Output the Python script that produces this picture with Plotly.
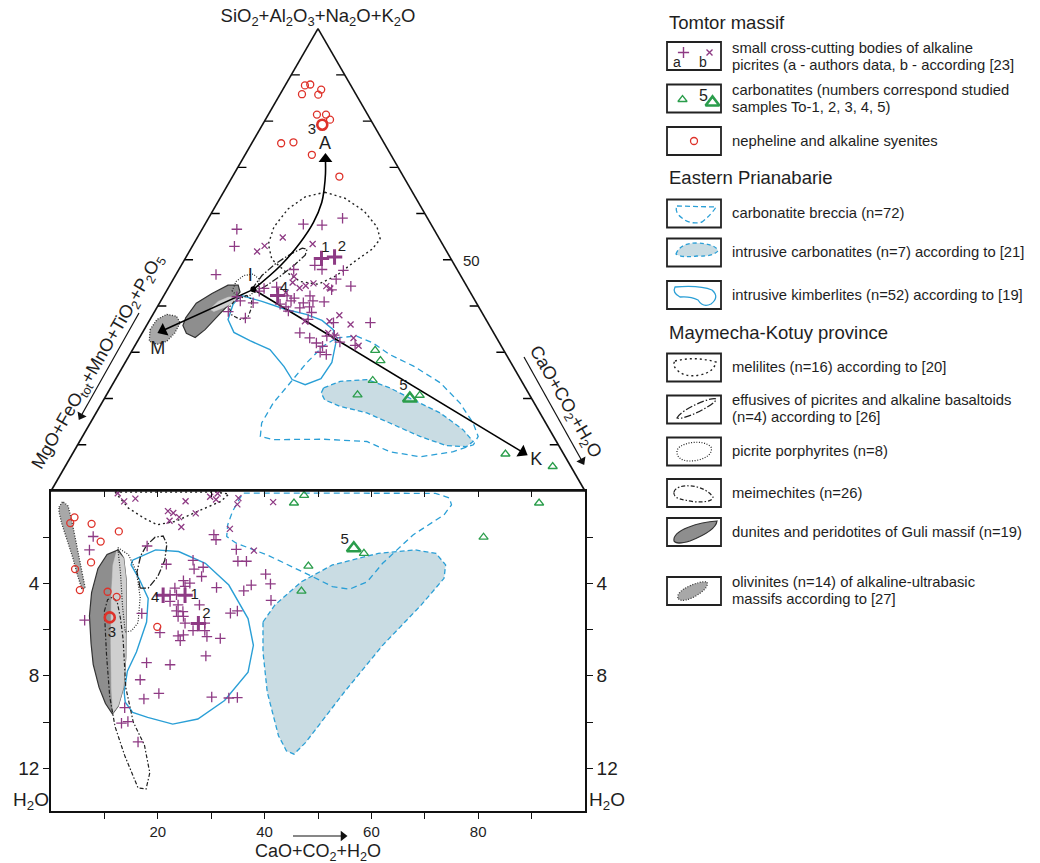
import plotly.graph_objects as go

W, H = 1040, 863
FONT = "Liberation Sans, Arial, sans-serif"

# ======================= DATA =======================
# Ternary: a = SiO2+Al2O3+Na2O+K2O, c = CaO+CO2+H2O, b = MgO+FeOtot+MnO+TiO2+P2O5 (= 100 - a - c)
t_syenite_a = [87.7, 87.9, 86.8, 85.8, 85.7, 81.4, 81.4, 80.3, 75.2, 75.4, 72.7, 68.0]
t_syenite_c = [3.7, 4.6, 7.2, 4.1, 7.2, 9.1, 10.8, 12.1, 5.5, 7.7, 12.5, 20.0]
t_sample3_a = [79.2]
t_sample3_c = [11.2]

t_carb_a = [30.4, 28.2, 23.9, 20.8, 20.7, 8.0, 5.3]
t_carb_c = [45.5, 47.6, 48.3, 47.0, 58.7, 81.1, 91.3]
t_sample5_a = [20.0]
t_sample5_c = [57.2]

t_picra_a = [57.7, 57.5, 59.0, 56.6, 52.9, 46.8, 48.8, 47.9, 47.9, 47.7, 45.8, 44.3, 44.1, 43.8,
             43.2, 40.7, 41.1, 42.0, 38.8, 37.4, 42.2, 41.7, 42.2, 43.5, 41.1, 40.4, 39.8, 40.7,
             41.1, 40.9, 39.6, 39.8, 38.9, 38.6, 37.1, 36.4, 36.4, 34.2, 33.1, 33.5, 32.0, 31.3,
             30.0, 29.5, 32.2, 31.5, 33.7]
t_picra_c = [18.4, 22.0, 25.1, 6.5, 7.9, 7.5, 25.0, 26.8, 21.5, 30.9, 30.5, 34.0, 20.2, 18.0,
             17.4, 17.5, 14.9, 13.8, 13.8, 17.7, 23.1, 24.7, 27.4, 30.8, 24.4, 22.7, 24.1, 26.9,
             28.5, 30.7, 26.8, 28.5, 25.0, 29.5, 29.6, 34.7, 41.6, 29.5, 31.9, 34.9, 33.7, 35.2,
             35.4, 36.8, 38.0, 41.2, 36.2]
t_samples124_a = [50.3, 50.6, 42.3]
t_samples124_c = [25.5, 27.8, 21.3]

t_picrb_a = [54.8, 51.8, 53.0, 53.4, 46.4, 43.8, 45.1, 43.9, 44.4, 44.9, 42.9, 38.0, 36.7, 36.0,
             34.2, 33.6, 33.1, 31.4, 36.7, 44.3]
t_picrb_c = [16.0, 12.7, 13.5, 22.3, 22.3, 30.4, 22.7, 24.6, 25.5, 26.7, 22.5, 35.0, 33.8, 38.1,
             34.8, 36.4, 40.1, 41.9, 29.2, 29.4]

# ternary fields
t_melil_a = [64.6, 63.3, 60.5, 57.1, 54.5, 52.3, 49.7, 46.6, 44.7, 45.3, 47.5, 50.1, 53.4, 57.1, 61.0, 63.6]
t_melil_c = [19.0, 23.4, 28.4, 32.5, 34.4, 34.0, 32.1, 30.2, 27.7, 24.0, 20.1, 16.3, 14.0, 13.2, 13.9, 15.8]
t_effus_a = [43.6, 46.6, 49.2, 51.2, 52.5, 52.3, 51.0, 49.0, 46.6, 44.5, 43.0]
t_effus_c = [15.8, 16.2, 17.5, 19.2, 20.8, 21.8, 22.1, 21.2, 19.8, 18.2, 16.7]
t_porph_a = [43.2, 45.3, 46.6, 46.9, 45.8, 43.8, 42.3, 41.7]
t_porph_c = [12.3, 12.0, 12.8, 14.4, 16.1, 16.9, 16.1, 14.6]
t_meim_a = [41.4, 42.3, 41.4, 39.3, 37.5, 37.1, 38.0, 39.7]
t_meim_c = [13.9, 15.4, 16.9, 17.8, 18.1, 16.9, 14.9, 13.5]
t_dunite_a = [37.5, 40.6, 42.7, 44.5, 44.5, 43.0, 41.0, 38.4, 34.9, 33.2, 34.1, 35.8]
t_dunite_c = [6.5, 6.9, 8.8, 10.9, 12.8, 13.9, 13.4, 12.5, 11.4, 10.4, 8.3, 6.8]
t_dunlight_a = [39.3, 41.0, 41.9, 42.1, 40.8, 39.7, 38.8]
t_dunlight_c = [10.1, 10.8, 12.2, 13.6, 13.9, 12.6, 11.1]
t_oliv_a = [34.9, 37.1, 38.2, 37.8, 36.4, 34.2, 32.4, 31.7, 32.4]
t_oliv_c = [1.1, 1.3, 2.6, 4.6, 6.0, 6.1, 5.5, 4.0, 2.2]
t_kimb_a = [42.3, 41.0, 39.3, 38.2, 36.9, 34.9, 32.1, 27.8, 24.3, 23.0, 24.1, 26.9, 30.6, 32.5, 34.3, 37.1, 40.4]
t_kimb_c = [14.4, 19.0, 24.2, 28.7, 32.3, 35.4, 37.3, 38.7, 38.4, 36.1, 33.1, 30.2, 25.7, 21.0, 17.1, 14.6, 13.9]
t_brec_a = [33.1, 33.5, 32.0, 29.5, 27.0, 23.4, 19.0, 14.7, 11.8, 10.0, 8.5, 7.4, 8.5, 10.7, 11.2,
            11.1, 11.8, 14.7, 19.0, 23.4, 27.7, 31.3]
t_brec_c = [36.9, 40.5, 44.3, 48.7, 54.4, 61.2, 67.1, 71.7, 74.1, 74.1, 71.1, 65.4, 59.2, 53.8, 45.4,
            36.1, 33.3, 32.1, 32.1, 33.1, 34.0, 35.3]
t_intr_a = [22.3, 23.7, 24.1, 22.3, 19.7, 16.9, 13.2, 10.7, 9.6, 9.8, 11.8, 14.7, 16.9, 18.3, 19.7, 21.2]
t_intr_c = [39.9, 42.3, 47.1, 52.3, 58.0, 64.4, 70.6, 73.7, 73.0, 69.2, 63.2, 56.1, 50.7, 45.0, 41.4, 40.0]

# trends from point I
t_I_a = [43.6]
t_I_c = [16.1]
t_trendA_a = [43.6, 48.7, 53.7, 58.1, 62.4, 65.3, 68.6, 71.4]
t_trendA_c = [16.1, 18.6, 19.8, 20.1, 19.5, 18.5, 17.1, 15.7]
t_trendM_a = [43.6, 34.7]
t_trendM_c = [16.1, 3.6]
t_trendK_a = [43.6, 8.4]
t_trendK_c = [16.1, 84.1]
t_heads_a = [71.8, 34.7, 8.4]
t_heads_c = [15.5, 3.6, 84.1]
t_heads_angle = [0, -114.5, 121]

t_letters = ["A", "I", "M", "K"]
t_letters_a = [75.0, 46.4, 30.6, 6.7]
t_letters_c = [13.8, 14.1, 4.7, 87.5]
t_numbers = ["3", "1", "2", "4", "5"]
t_numbers_a = [77.9, 52.4, 52.6, 43.8, 22.6]
t_numbers_c = [9.9, 25.2, 28.2, 21.7, 54.7]
t_ticks = [10, 20, 30, 40, 50, 60, 70, 80, 90]

# Lower panel: x = CaO+CO2+H2O, y = H2O
b_syenite_x = [4.4, 3.6, 7.6, 12.7, 9.3, 7.5, 4.5, 5.4, 10.6, 12.3, 19.9]
b_syenite_y = [1.14, 1.39, 1.42, 1.75, 2.19, 3.09, 3.38, 4.29, 4.36, 4.58, 5.88]
b_sample3_x = [11.0]
b_sample3_y = [5.47]
b_carb_x = [45.5, 47.4, 91.4, 81.0, 58.6, 48.2, 46.9]
b_carb_y = [0.52, 0.19, 0.52, 2.0, 2.70, 3.25, 4.33]
b_sample5_x = [56.7]
b_sample5_y = [2.48]
b_picra_x = [7.9, 7.2, 6.3, 18.0, 21.6, 17.0, 20.4, 13.8, 13.2, 14.4, 17.9, 16.7, 22.3, 17.4, 20.2, 16.3,
             26.6, 28.5, 26.8, 28.2, 24.8, 26.0, 31.0, 23.2, 25.1, 22.3, 23.5, 22.3, 23.8, 27.8, 23.5,
             24.7, 23.8, 24.8, 25.1, 26.6, 28.8, 28.8, 29.2, 23.8, 24.8, 24.2, 31.7, 29.0,
             30.1, 33.3, 34.9, 33.6, 34.9, 36.1, 37.5, 41.2, 41.1, 40.2, 34.7, 35.0, 36.6, 30.5, 30.9]
b_picra_y = [1.97, 2.55, 5.59, 2.38, 3.17, 5.30, 6.13, 9.38, 10.05, 9.98, 7.43, 8.17, 7.52, 9.0, 8.76, 10.86,
             3.0, 3.3, 3.38, 3.7, 3.88, 3.99, 4.18, 4.2, 4.13, 4.49, 4.49, 4.78, 4.93, 4.93, 5.19,
             5.22, 5.43, 5.43, 5.72, 6.04, 5.72, 6.04, 6.3, 6.27, 6.23, 6.48, 6.38, 7.14,
             8.92, 8.96, 8.94, 5.29, 5.19, 4.32, 4.07, 4.73, 4.02, 3.6, 2.53, 3.04, 3.04, 1.89, 2.11]
b_samples124_x = [25.1, 27.6, 21.0]
b_samples124_y = [4.51, 5.74, 4.51]
b_picrb_x = [12.5, 13.7, 15.8, 25.2, 29.8, 30.9, 31.2, 35.1, 34.9, 41.6, 21.9, 22.9, 24.0, 22.2, 24.4, 27.1, 33.5, 38.0]
b_picrb_y = [0.10, 0.45, 0.33, 0.44, 0.25, 0.37, 0.11, 0.31, 0.58, 0.48, 0.87, 0.95, 1.13, 1.29, 1.56, 0.97, 1.64, 2.58]

b_melil_x = [12.0, 31.0, 33.3, 31.8, 28.2, 23.2, 19.9, 17.4, 14.5]
b_melil_y = [0.05, 0.05, 0.13, 0.45, 0.81, 1.32, 1.46, 1.17, 0.74]
b_brec_x = [36.1, 72.0, 74.6, 75.0, 73.6, 67.8, 62.1, 59.2, 55.9, 52.7, 48.4, 40.5, 34.7, 32.9, 33.1, 34.0, 35.4]
b_brec_y = [0.09, 0.10, 0.30, 0.60, 1.03, 1.90, 3.13, 3.93, 4.25, 4.14, 3.64, 2.77, 2.26, 1.97, 1.46, 0.88, 0.30]
b_intr_x = [39.7, 41.9, 46.9, 52.7, 61.3, 68.2, 72.1, 73.9, 73.6, 69.3, 62.1, 54.9, 47.7, 45.5, 44.1, 42.6, 40.5, 39.7]
b_intr_y = [5.67, 4.94, 3.93, 3.20, 2.70, 2.55, 2.70, 3.20, 3.78, 4.94, 6.68, 8.71, 10.88, 11.39, 11.25, 10.59, 8.71, 6.97]
b_kimb_x = [15.3, 19.6, 23.9, 28.9, 33.3, 36.9, 37.9, 36.9, 32.5, 27.5, 22.8, 18.1, 15.3, 13.9, 13.7,
            14.3, 16.0, 17.9, 18.2, 16.5, 15.0]
b_kimb_y = [2.99, 2.55, 2.62, 3.13, 4.07, 5.52, 6.68, 7.84, 9.07, 9.87, 10.09, 9.80, 9.58, 9.14, 8.7,
            7.8, 6.97, 5.67, 4.65, 3.8, 3.2]
b_dunite_x = [12.6, 10.5, 8.8, 7.6, 7.2, 7.5, 7.9, 9.0, 10.2, 11.5, 12.6, 13.6, 14.0, 14.1, 14.1, 13.6]
b_dunite_y = [2.55, 2.75, 3.35, 4.4, 5.4, 6.6, 7.5, 8.5, 9.2, 9.65, 9.3, 8.5, 7.2, 5.5, 3.9, 2.9]
b_dunlight_x = [12.3, 13.6, 14.1, 14.1, 14.0, 13.6, 12.6, 11.6, 11.3, 11.2, 11.3, 11.6]
b_dunlight_y = [2.6, 2.9, 3.9, 5.5, 7.2, 8.5, 9.3, 9.6, 8.5, 6.5, 4.5, 3.2]
b_oliv_x = [1.5, 2.2, 3.2, 3.9, 4.6, 5.3, 6.1, 6.4, 5.8, 4.9, 4.1, 3.0, 2.0, 1.5]
b_oliv_y = [0.7, 0.45, 0.65, 1.3, 2.1, 2.9, 3.7, 4.2, 4.25, 3.6, 2.9, 2.1, 1.4, 0.9]
b_effus_x = [16.7, 16.1, 16.8, 17.9, 19.5, 21.0, 21.7, 21.3, 20.0, 18.2]
b_effus_y = [4.2, 3.5, 2.8, 2.35, 2.0, 1.95, 2.3, 3.0, 3.7, 4.2]
b_meim_x = [10.0, 10.6, 11.5, 12.4, 13.0, 13.5, 14.0, 15.4, 17.5, 18.5, 17.8, 16.3, 13.8, 12.0, 11.0, 10.4]
b_meim_y = [5.2, 4.7, 4.6, 4.8, 5.5, 6.4, 8.5, 10.0, 11.0, 12.2, 12.9, 12.85, 11.45, 10.2, 8.9, 7.1]
b_porph_x = [12.5, 14.5, 16.0, 16.7, 16.3, 15.1, 13.9, 13.4, 13.0]
b_porph_y = [2.45, 2.75, 3.5, 4.6, 5.7, 6.05, 6.1, 5.0, 3.5]
b_numbers = ["3", "4", "1", "2", "5"]
b_numbers_x = [11.4, 19.5, 26.9, 29.1, 55.0]
b_numbers_y = [6.17, 4.65, 4.51, 5.35, 2.14]

x_major = [20, 40, 60, 80]
x_minor = [10, 30, 50, 70, 90]
x_all = [10, 20, 30, 40, 50, 60, 70, 80, 90]
y_major = [4, 8, 12]
y_minor = [2, 6, 10]

legend_lines = [
    ["small cross-cutting bodies of alkaline", "picrites (a - authors data, b - according [23]"],
    ["carbonatites (numbers correspond studied", "samples To-1, 2, 3, 4, 5)"],
    ["nepheline and alkaline syenites"],
    ["carbonatite breccia (n=72)"],
    ["intrusive carbonatites (n=7) according to [21]"],
    ["intrusive kimberlites (n=52) according to [19]"],
    ["melilites (n=16) according to [20]"],
    ["effusives of picrites and alkaline basaltoids", "(n=4) according to [26]"],
    ["picrite porphyrites (n=8)"],
    ["meimechites (n=26)"],
    ["dunites and peridotites of Guli massif (n=19)"],
    ["olivinites (n=14) of alkaline-ultrabasic", "massifs according to [27]"],
]
legend_headers = ["Tomtor massif", "Eastern Prianabarie", "Maymecha-Kotuy province"]

# ======================= STYLE =======================
PURPLE = "#8e3a84"
RED = "#de3129"
GREEN = "#2a9d4b"
BLUE = "#2a9fd6"
CARB_FILL = "#c9dce3"
DARK_GRAY = "#8e8e8e"
LIGHT_GRAY = "#cfcfcf"
OLIV_GRAY = "#a8a8a8"
TXT = "#1e1e1e"

DOT = "2px,3px"
FINEDOT = "1px,1.6px"
DASHDOT_LONG = "7px,2px,1.5px,2px"
DASHDOT = "4px,2px,1.5px,2px"
DASH = "6px,4px"
DASH2 = "5px,3px"


def closed(v):
    return list(v) + [v[0]]


def rest(a, c):
    return [round(100 - x - y, 3) for x, y in zip(a, c)]


fig = go.Figure()


def tpoly(a, c, color, dash, width=1.3, fill=None):
    a2, c2 = closed(a), closed(c)
    fig.add_trace(go.Scatterternary(
        a=a2, b=rest(a2, c2), c=c2, mode="lines",
        line=dict(color=color, width=width, dash=dash),
        fill="toself" if fill else "none", fillcolor=fill,
        hoverinfo="skip", showlegend=False))


def tline(a, c, color="black", width=1.6, shape="linear"):
    fig.add_trace(go.Scatterternary(
        a=a, b=rest(a, c), c=c, mode="lines",
        line=dict(color=color, width=width, shape=shape),
        hoverinfo="skip", showlegend=False))


def tmark(a, c, symbol, size, color, lw, angle=0):
    fig.add_trace(go.Scatterternary(
        a=a, b=rest(a, c), c=c, mode="markers",
        marker=dict(symbol=symbol, size=size, color=color, angle=angle,
                    line=dict(color=color, width=lw)),
        hoverinfo="skip", showlegend=False))


def ttext(txt, a, c, size, pos="middle center"):
    fig.add_trace(go.Scatterternary(
        a=a, b=rest(a, c), c=c, mode="text", text=txt,
        textposition=pos, cliponaxis=False,
        textfont=dict(size=size, color=TXT, family=FONT),
        hoverinfo="skip", showlegend=False))


def cpoly(x, y, color, dash, width=1.3, fill=None):
    fig.add_trace(go.Scatter(
        x=closed(x), y=closed(y), mode="lines",
        line=dict(color=color, width=width, dash=dash),
        fill="toself" if fill else "none", fillcolor=fill,
        hoverinfo="skip", showlegend=False))


def cmark(x, y, symbol, size, color, lw):
    fig.add_trace(go.Scatter(
        x=x, y=y, mode="markers",
        marker=dict(symbol=symbol, size=size, color=color,
                    line=dict(color=color, width=lw)),
        hoverinfo="skip", showlegend=False))


# ---------- ternary fields ----------
tpoly(t_intr_a, t_intr_c, BLUE, DASH2, 1.3, CARB_FILL)
tpoly(t_brec_a, t_brec_c, BLUE, DASH, 1.3)
tpoly(t_kimb_a, t_kimb_c, BLUE, "solid", 1.4)
tpoly(t_dunite_a, t_dunite_c, "#333333", "solid", 1.2, DARK_GRAY)
tpoly(t_dunlight_a, t_dunlight_c, LIGHT_GRAY, "solid", 0.5, LIGHT_GRAY)
tpoly(t_oliv_a, t_oliv_c, "#333333", FINEDOT, 1.3, OLIV_GRAY)
tpoly(t_melil_a, t_melil_c, "#222222", DOT, 1.4)
tpoly(t_effus_a, t_effus_c, "#222222", DASHDOT_LONG, 1.3)
tpoly(t_porph_a, t_porph_c, "#222222", FINEDOT, 1.2)
tpoly(t_meim_a, t_meim_c, "#222222", DASHDOT, 1.2)

tline(t_trendA_a, t_trendA_c, shape="spline")
tline(t_trendM_a, t_trendM_c)
tline(t_trendK_a, t_trendK_c)

tmark(t_picrb_a, t_picrb_c, "x-thin", 6, PURPLE, 1.3)
tmark(t_picra_a, t_picra_c, "cross-thin", 7.5, PURPLE, 1.3)
tmark(t_samples124_a, t_samples124_c, "cross-thin", 11, PURPLE, 3)
tmark(t_syenite_a, t_syenite_c, "circle-open", 7, RED, 1.3)
tmark(t_sample3_a, t_sample3_c, "circle-open", 10, RED, 2.6)
tmark(t_carb_a, t_carb_c, "triangle-up-open", 8, GREEN, 1.3)
tmark(t_sample5_a, t_sample5_c, "triangle-up-open", 12, GREEN, 2.6)
tmark(t_I_a, t_I_c, "circle", 6, "black", 0)
tmark(t_heads_a, t_heads_c, "triangle-up", 12, "black", 0, t_heads_angle)

ttext(t_letters, t_letters_a, t_letters_c, 18)
ttext(t_numbers, t_numbers_a, t_numbers_c, 15)

# edge ticks (horizontal, pointing inward, constant a) on left and right edges
TL = 1.6
for t in t_ticks:
    for b_pair, c_pair in (([100 - t, 100 - t - TL], [0, TL]), ([0, TL], [100 - t, 100 - t - TL])):
        fig.add_trace(go.Scatterternary(a=[t, t], b=b_pair, c=c_pair, mode="lines",
                                        line=dict(color="black", width=1.3),
                                        hoverinfo="skip", showlegend=False))

# ---------- lower panel ----------
cpoly(b_intr_x, b_intr_y, BLUE, DASH2, 1.3, CARB_FILL)
cpoly(b_brec_x, b_brec_y, BLUE, DASH, 1.3)
cpoly(b_kimb_x, b_kimb_y, BLUE, "solid", 1.4)
cpoly(b_dunite_x, b_dunite_y, "#333333", "solid", 1.2, DARK_GRAY)
cpoly(b_dunlight_x, b_dunlight_y, LIGHT_GRAY, "solid", 0.5, LIGHT_GRAY)
cpoly(b_oliv_x, b_oliv_y, "#333333", FINEDOT, 1.3, OLIV_GRAY)
cpoly(b_melil_x, b_melil_y, "#222222", DOT, 1.4)
cpoly(b_effus_x, b_effus_y, "#222222", DASHDOT_LONG, 1.3)
cpoly(b_porph_x, b_porph_y, "#222222", FINEDOT, 1.2)
cpoly(b_meim_x, b_meim_y, "#222222", DASHDOT, 1.2)

cmark(b_picrb_x, b_picrb_y, "x-thin", 6, PURPLE, 1.3)
cmark(b_picra_x, b_picra_y, "cross-thin", 7.5, PURPLE, 1.3)
cmark(b_samples124_x, b_samples124_y, "cross-thin", 11, PURPLE, 3)
cmark(b_syenite_x, b_syenite_y, "circle-open", 7, RED, 1.3)
cmark(b_sample3_x, b_sample3_y, "circle-open", 10, RED, 2.6)
cmark(b_carb_x, b_carb_y, "triangle-up-open", 8, GREEN, 1.3)
cmark(b_sample5_x, b_sample5_y, "triangle-up-open", 12, GREEN, 2.6)
fig.add_trace(go.Scatter(x=b_numbers_x, y=b_numbers_y, mode="text", text=b_numbers,
                         textfont=dict(size=15, color=TXT, family=FONT),
                         hoverinfo="skip", showlegend=False))
# register mirrored axes
fig.add_trace(go.Scatter(x=[0], y=[0], xaxis="x2", yaxis="y2", mode="markers",
                         marker=dict(size=1, opacity=0), hoverinfo="skip", showlegend=False))

# ---------- page overlay (pixel-like axis x3/y3): legend glyphs and axis arrows ----------
def deco_marker(px, py, symbol, size, color, lw, fill=None):
    fig.add_trace(go.Scatter(
        x=[px], y=[py], mode="markers", xaxis="x3", yaxis="y3",
        marker=dict(symbol=symbol, size=size, color=fill or color, line=dict(color=color, width=lw)),
        hoverinfo="skip", showlegend=False))


def deco_arrow(tx, ty, hx, hy, angle):
    fig.add_trace(go.Scatter(
        x=[tx, hx], y=[ty, hy], mode="lines", xaxis="x3", yaxis="y3",
        line=dict(color="#111111", width=1.2), hoverinfo="skip", showlegend=False))
    fig.add_trace(go.Scatter(
        x=[hx], y=[hy], mode="markers", xaxis="x3", yaxis="y3",
        marker=dict(symbol="triangle-up", size=9, color="#111111", angle=angle, line=dict(width=0)),
        hoverinfo="skip", showlegend=False))


deco_marker(683.5, 52.5, "cross-thin", 8, PURPLE, 1.4)
deco_marker(709.5, 52.5, "x-thin", 6, PURPLE, 1.4)
deco_marker(682.5, 99.5, "triangle-up-open", 8, GREEN, 1.3)
deco_marker(712.5, 102.5, "triangle-up-open", 12, GREEN, 2.6)
deco_marker(694, 141, "circle-open", 7, RED, 1.3)

deco_arrow(139, 313, 81, 416, -150.7)
deco_arrow(524, 357, 582, 461, 150.9)
deco_arrow(293, 836, 343, 836, 90)

box_tops = [42, 84.5, 127, 199.5, 238.5, 281, 353.5, 395.5, 437.5, 479, 518, 577]
BOX_H = 28
shapes = []
for t in box_tops:
    shapes.append(dict(type="rect", xref="x3", yref="y3", x0=667, x1=721, y0=t, y1=t + BOX_H,
                       line=dict(color="#222222", width=1.8)))


def gpath(path, color, dash="solid", width=1.3, fill=None):
    d = dict(type="path", xref="x3", yref="y3", path=path,
             line=dict(color=color, width=width, dash=dash))
    if fill:
        d["fillcolor"] = fill
    shapes.append(d)


gpath("M 677,206 L 716,207 Q 712,214 702,222 Q 690,225 682,218 Q 674,212 677,206 Z", BLUE, DASH2, 1.3)
gpath("M 676,254 Q 680,243 697,243 Q 716,244 718,251 Q 712,257 697,256 Q 682,258 676,254 Z", BLUE, "4px,3px", 1.3, CARB_FILL)
gpath("M 675,287 Q 700,285 712,290 Q 720,297 711,304 Q 703,308 698,300 Q 690,296 680,297 Q 672,293 675,287 Z", BLUE, "solid", 1.3)
gpath("M 675,361 Q 695,356 716,362 Q 714,372 700,375 Q 685,378 677,370 Q 672,365 675,361 Z", "#222222", DOT, 1.4)
gpath("M 677,418 C 680,410 712,396 716,399 C 718,403 684,421 677,418 Z", "#222222", DASHDOT_LONG, 1.3)
gpath("M 677,452 C 676,443 703,438 711,447 C 714,456 700,461 690,461 C 681,461 677,457 677,452 Z", "#222222", FINEDOT, 1.2)
gpath("M 674,492 C 676,483 703,483 713,497 C 713,503 695,503 685,500 C 677,499 673,496 674,492 Z", "#222222", DASHDOT, 1.2)
gpath("M 674,541 C 672,530 700,522 717,521 C 716,530 700,537 690,541 C 680,544 675,543 674,541 Z", "#333333", "solid", 1.2, DARK_GRAY)
gpath("M 678,598 C 675,590 700,580 707,582 C 710,588 695,598 686,600 C 681,601 679,600 678,598 Z", "#333333", FINEDOT, 1.2, OLIV_GRAY)

annotations = []
legend_y = [(47.5, 64.5), (89.5, 106.5), (141,), (213,), (252,), (295,), (367,), (400, 417),
            (451,), (492.5,), (532,), (582, 599)]
for lines, ys in zip(legend_lines, legend_y):
    for txt, y in zip(lines, ys):
        annotations.append(dict(xref="x3", yref="y3", x=730, y=y, text=txt, showarrow=False,
                                xanchor="left", yanchor="middle", align="left",
                                font=dict(size=14.8, color=TXT, family=FONT)))
for txt, y in zip(legend_headers, [22, 177, 332.5]):
    annotations.append(dict(xref="x3", yref="y3", x=667, y=y, text=txt, showarrow=False,
                            xanchor="left", yanchor="middle",
                            font=dict(size=18.5, color=TXT, family=FONT)))
for txt, x, y, sz in [("a", 677, 62, 14), ("b", 703, 62, 14), ("5", 703, 95, 16)]:
    annotations.append(dict(xref="x3", yref="y3", x=x, y=y, text=txt, showarrow=False,
                            xanchor="center", yanchor="middle",
                            font=dict(size=sz, color=TXT, family=FONT)))


def note(px, py, text, size=16, angle=0):
    annotations.append(dict(xref="x3", yref="y3", x=px, y=py, text=text, showarrow=False,
                            textangle=angle, xanchor="center", yanchor="middle",
                            font=dict(size=size, color=TXT, family=FONT)))


note(98, 362, "MgO+FeO<sub>tot</sub>+MnO+TiO<sub>2</sub>+P<sub>2</sub>O<sub>5</sub>", 18, -60)
note(565, 402, "CaO+CO<sub>2</sub>+H<sub>2</sub>O", 18, 60)
note(318, 852, "CaO+CO<sub>2</sub>+H<sub>2</sub>O", 18)
note(31, 801, "H<sub>2</sub>O", 19)
note(607, 801, "H<sub>2</sub>O", 19)
note(471, 260, "50", 15)

# ======================= LAYOUT =======================
X0, X1 = 51 / W, 585 / W
TRI_H = (585 - 51) * (3 ** 0.5) / 2
BASE = 491
RECT_BOT = 811

tern_axis = dict(showgrid=False, showline=True, linecolor="#111111", linewidth=1.6,
                 ticks="", showticklabels=False, tickmode="array", tickvals=[],
                 title=dict(text=""))
aax = dict(tern_axis)
aax["title"] = dict(text="SiO<sub>2</sub>+Al<sub>2</sub>O<sub>3</sub>+Na<sub>2</sub>O+K<sub>2</sub>O",
                    font=dict(size=18.5, color=TXT, family=FONT))

axis_common = dict(showgrid=False, zeroline=False, showline=True, linecolor="#111111",
                   linewidth=1.6, tickcolor="#111111", tickwidth=1.3, ticklen=6,
                   tickmode="array")

fig.update_layout(
    width=W, height=H, margin=dict(l=0, r=0, t=0, b=0),
    paper_bgcolor="white", plot_bgcolor="rgba(0,0,0,0)",
    showlegend=False, hovermode=False,
    font=dict(family=FONT, color=TXT),
    ternary=dict(
        domain=dict(x=[X0, X1], y=[1 - BASE / H, 1 - (BASE - TRI_H) / H]),
        sum=100, bgcolor="rgba(0,0,0,0)",
        aaxis=aax, baxis=dict(tern_axis), caxis=dict(tern_axis)),
    xaxis=dict(axis_common, domain=[X0, X1], range=[0, 100], anchor="y",
               tickvals=x_major, ticks="outside",
               minor=dict(tickmode="array", tickvals=x_minor, ticks="outside", ticklen=6,
                          tickwidth=1.3, tickcolor="#111111", showgrid=False),
               tickfont=dict(size=15, color=TXT)),
    yaxis=dict(axis_common, domain=[1 - RECT_BOT / H, 1 - BASE / H], range=[13.85, 0], anchor="x",
               tickvals=y_major, ticks="outside",
               minor=dict(tickmode="array", tickvals=y_minor, ticks="outside", ticklen=6,
                          tickwidth=1.3, tickcolor="#111111", showgrid=False),
               tickfont=dict(size=19, color=TXT)),
    xaxis2=dict(axis_common, overlaying="x", anchor="y2", side="top", range=[0, 100],
                tickvals=x_all, ticks="inside", showticklabels=False),
    yaxis2=dict(axis_common, overlaying="y", anchor="x2", side="right", range=[13.85, 0],
                tickvals=y_major, ticks="outside",
                minor=dict(tickmode="array", tickvals=y_minor, ticks="outside", ticklen=6,
                           tickwidth=1.3, tickcolor="#111111", showgrid=False),
                tickfont=dict(size=19, color=TXT)),
    xaxis3=dict(domain=[0, 1], range=[0, W], visible=False, anchor="y3", fixedrange=True),
    yaxis3=dict(domain=[0, 1], range=[H, 0], visible=False, anchor="x3", fixedrange=True),
    shapes=shapes, annotations=annotations,
)

fig.write_html("out.html")
